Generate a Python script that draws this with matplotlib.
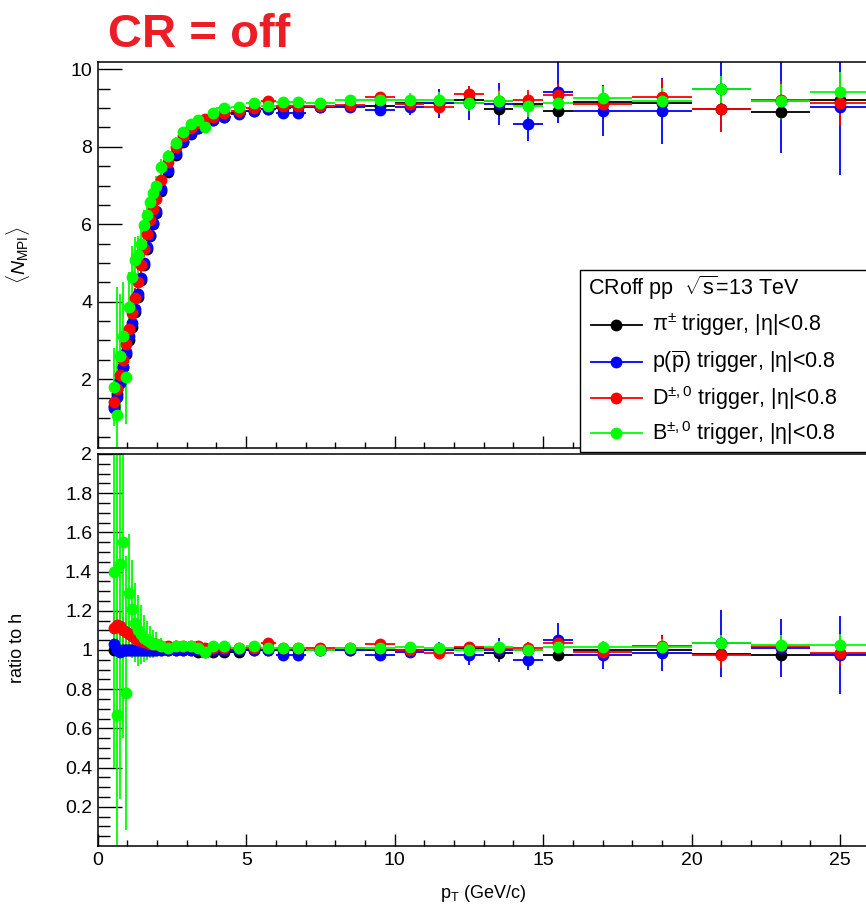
import numpy as np
import matplotlib
matplotlib.use("Agg")
import matplotlib.pyplot as plt
from matplotlib.patches import Rectangle
from matplotlib.lines import Line2D

plt.rcParams['font.family'] = ['Liberation Sans', 'DejaVu Sans']
plt.rcParams['mathtext.fontset'] = 'custom'
plt.rcParams['mathtext.rm'] = 'Liberation Sans'
plt.rcParams['mathtext.it'] = 'Liberation Sans:italic'
plt.rcParams['mathtext.bf'] = 'Liberation Sans:bold'

# bin centres and half widths (GeV/c)
pt = [0.55, 0.65, 0.75, 0.85, 0.95, 1.05, 1.15, 1.25, 1.35, 1.45, 1.55, 1.65, 1.75, 1.85, 1.95,
      2.125, 2.375, 2.625, 2.875, 3.125, 3.375, 3.625, 3.875,
      4.25, 4.75, 5.25, 5.75, 6.25, 6.75,
      7.5, 8.5, 9.5, 10.5, 11.5, 12.5, 13.5, 14.5, 15.5,
      17, 19, 21, 23, 25]
dpt = [0.05]*15 + [0.125]*8 + [0.25]*6 + [0.5]*9 + [1.0]*5

# <N_MPI> per trigger
nmpi_pi = [1.30, 1.62, 1.95, 2.30, 2.65, 3.00, 3.35, 3.72, 4.12, 4.55, 4.95, 5.35, 5.70, 6.00, 6.30,
           6.85, 7.35, 7.80, 8.12, 8.33, 8.48, 8.60, 8.68,
           8.78, 8.86, 8.93, 8.97, 9.00, 9.02,
           9.04, 9.05, 9.06, 9.14, 9.14, 9.20, 8.97, 9.10, 8.92,
           9.16, 9.12, 8.97, 8.90, 9.20]
nmpi_p = [1.25, 1.55, 1.90, 2.30, 2.70, 3.10, 3.45, 3.80, 4.20, 4.60, 5.00, 5.40, 5.72, 6.02, 6.33,
          6.90, 7.40, 7.85, 8.15, 8.35, 8.48, 8.60, 8.68,
          8.78, 8.85, 8.93, 8.97, 8.87, 8.87,
          9.04, 9.03, 8.95, 9.03, 9.12, 9.12, 9.10, 8.60, 9.42,
          8.93, 8.93, 9.48, 9.17, 9.03]
nmpi_D = [1.42, 1.75, 2.10, 2.50, 2.90, 3.30, 3.70, 4.10, 4.50, 4.95, 5.35, 5.75, 6.10, 6.40, 6.65,
          7.15, 7.60, 8.00, 8.28, 8.48, 8.62, 8.72, 8.78,
          8.88, 8.93, 9.00, 9.18, 9.05, 9.05,
          9.06, 9.08, 9.29, 9.10, 9.03, 9.36, 9.17, 9.22, 9.33,
          9.10, 9.29, 8.97, 9.20, 9.14]
nmpi_B = [1.80, 1.07, 2.60, 3.10, 2.05, 3.87, 4.64, 5.07, 5.20, 5.50, 5.97, 6.25, 6.58, 6.80, 7.00,
          7.48, 7.75, 8.10, 8.39, 8.60, 8.70, 8.52, 8.87,
          9.00, 9.03, 9.13, 9.05, 9.16, 9.16,
          9.13, 9.20, 9.20, 9.22, 9.22, 9.14, 9.18, 9.06, 9.14,
          9.26, 9.18, 9.48, 9.18, 9.42]

err_pi = [0.10, 0.10, 0.10, 0.10, 0.09, 0.09, 0.08, 0.08, 0.08, 0.07, 0.07, 0.06, 0.06, 0.06, 0.05,
          0.04, 0.04, 0.04, 0.03, 0.03, 0.03, 0.03, 0.03,
          0.02, 0.02, 0.02, 0.02, 0.03, 0.03,
          0.03, 0.03, 0.04, 0.04, 0.05, 0.05, 0.06, 0.07, 0.08,
          0.07, 0.08, 0.10, 0.12, 0.15]
err_p = [0.15, 0.15, 0.14, 0.14, 0.13, 0.12, 0.12, 0.11, 0.10, 0.10, 0.09, 0.09, 0.08, 0.08, 0.08,
         0.06, 0.06, 0.06, 0.06, 0.06, 0.06, 0.06, 0.06,
         0.05, 0.06, 0.06, 0.08, 0.08, 0.10,
         0.10, 0.12, 0.15, 0.20, 0.37, 0.43, 0.55, 0.44, 0.80,
         0.66, 0.85, 1.09, 1.33, 1.77]
err_D = [0.30, 0.30, 0.30, 0.30, 0.28, 0.28, 0.26, 0.25, 0.24, 0.22, 0.20, 0.18, 0.16, 0.14, 0.12,
         0.10, 0.08, 0.08, 0.07, 0.06, 0.06, 0.06, 0.06,
         0.05, 0.06, 0.06, 0.07, 0.08, 0.08,
         0.08, 0.10, 0.12, 0.15, 0.18, 0.22, 0.32, 0.25, 0.30,
         0.30, 0.45, 0.58, 0.50, 0.60]
err_B = [1.00, 3.30, 1.60, 1.40, 1.20, 0.90, 0.80, 0.60, 0.50, 0.45, 0.40, 0.35, 0.30, 0.28, 0.25,
         0.20, 0.16, 0.14, 0.12, 0.10, 0.10, 0.10, 0.08,
         0.07, 0.07, 0.07, 0.08, 0.08, 0.10,
         0.10, 0.12, 0.14, 0.18, 0.20, 0.22, 0.25, 0.28, 0.30,
         0.30, 0.35, 0.35, 0.45, 0.50]

# ratio to h
ratio_pi = [1.00, 1.00, 1.00, 1.00, 1.00, 1.00, 1.00, 1.00, 1.00, 1.00, 1.00, 1.00, 1.00, 1.00, 1.00,
            1.00, 1.00, 1.00, 1.00, 1.00, 0.99, 0.99, 0.99,
            0.99, 0.99, 1.00, 1.00, 1.00, 1.00,
            1.00, 1.00, 1.00, 1.00, 1.00, 1.01, 0.983, 1.00, 0.975,
            1.00, 1.00, 0.98, 0.975, 0.98]
ratio_p = [1.03, 1.00, 0.99, 1.00, 1.00, 1.00, 1.00, 1.00, 1.00, 1.00, 1.00, 1.00, 1.00, 1.00, 1.00,
           1.00, 1.00, 1.00, 1.00, 1.00, 1.00, 1.00, 1.00,
           1.00, 1.00, 1.00, 1.00, 0.975, 0.975,
           1.00, 1.00, 0.975, 0.99, 1.00, 0.974, 1.00, 0.95, 1.05,
           0.975, 0.985, 1.034, 1.01, 0.975]
ratio_D = [1.11, 1.13, 1.12, 1.10, 1.09, 1.08, 1.07, 1.06, 1.05, 1.05, 1.04, 1.04, 1.03, 1.03, 1.03,
           1.02, 1.02, 1.02, 1.02, 1.02, 1.02, 1.01, 1.01,
           1.01, 1.01, 1.01, 1.035, 1.01, 1.01,
           1.01, 1.01, 1.03, 1.00, 0.983, 1.017, 1.01, 1.009, 1.035,
           0.99, 1.02, 0.975, 1.02, 0.983]
ratio_B = [1.40, 0.67, 1.44, 1.55, 0.78, 1.29, 1.21, 1.14, 1.10, 1.08, 1.06, 1.05, 1.04, 1.03, 1.03,
           1.02, 1.01, 1.02, 1.02, 1.02, 1.01, 0.99, 1.02,
           1.02, 1.01, 1.02, 1.01, 1.01, 1.01,
           1.00, 1.01, 1.01, 1.017, 1.009, 1.00, 1.017, 1.00, 1.017,
           1.015, 1.017, 1.034, 1.026, 1.026]

rerr_pi = [0.01]*23 + [0.005]*6 + [0.005, 0.005, 0.006, 0.006, 0.007, 0.008, 0.009, 0.01, 0.012,
                                   0.012, 0.014, 0.016, 0.02, 0.025]
rerr_p = [0.03, 0.03, 0.03, 0.03, 0.025, 0.025, 0.02, 0.02, 0.02, 0.02, 0.015, 0.015, 0.015, 0.012, 0.012,
          0.01, 0.01, 0.008, 0.008, 0.008, 0.008, 0.008, 0.008,
          0.006, 0.007, 0.008, 0.009, 0.01, 0.012,
          0.012, 0.014, 0.017, 0.03, 0.04, 0.05, 0.06, 0.05, 0.09,
          0.07, 0.09, 0.17, 0.15, 0.20]
rerr_D = [0.08, 0.08, 0.08, 0.07, 0.07, 0.07, 0.06, 0.06, 0.05, 0.05, 0.04, 0.04, 0.03, 0.03, 0.03,
          0.02, 0.015, 0.012, 0.01, 0.01, 0.008, 0.008, 0.008,
          0.007, 0.007, 0.008, 0.009, 0.01, 0.01,
          0.01, 0.012, 0.014, 0.017, 0.02, 0.025, 0.035, 0.03, 0.035,
          0.035, 0.05, 0.065, 0.055, 0.065]
rerr_B = [1.00, 1.40, 1.20, 1.00, 0.70, 0.30, 0.25, 0.20, 0.18, 0.15, 0.12, 0.10, 0.08, 0.07, 0.06,
          0.04, 0.03, 0.03, 0.02, 0.015, 0.012, 0.012, 0.01,
          0.008, 0.008, 0.008, 0.009, 0.01, 0.012,
          0.012, 0.014, 0.016, 0.02, 0.022, 0.025, 0.028, 0.03, 0.033,
          0.033, 0.038, 0.04, 0.05, 0.055]

labels = ['π$^{\\pm}$ trigger, |η|<0.8',
          'p($\\overline{\\rm p}$) trigger, |η|<0.8',
          'D$^{{\\pm},0}$ trigger, |η|<0.8',
          'B$^{{\\pm},0}$ trigger, |η|<0.8']
colors = ['#000000', '#0000ff', '#ff0000', '#00ff00']
tops = [nmpi_pi, nmpi_p, nmpi_D, nmpi_B]
top_errs = [err_pi, err_p, err_D, err_B]
ratios = [ratio_pi, ratio_p, ratio_D, ratio_B]
ratio_errs = [rerr_pi, rerr_p, rerr_D, rerr_B]

W, H = 866, 907
fig = plt.figure(figsize=(W/100, H/100), dpi=100)

x0 = 97.7
xmax = 27.0
xr = x0 + xmax*29.7
ax1 = fig.add_axes([x0/W, 1 - 448/H, (xr - x0)/W, (448 - 62)/H])
ax2 = fig.add_axes([x0/W, 1 - 846/H, (xr - x0)/W, (846 - 454)/H])

for c, y, e in zip(colors, tops, top_errs):
    ax1.errorbar(pt, y, yerr=e, xerr=dpt, fmt='o', color=c, ms=7.5, lw=1.3,
                 capsize=0, mec=c, mfc=c)
for c, y, e in zip(colors, ratios, ratio_errs):
    ax2.errorbar(pt, y, yerr=e, xerr=dpt, fmt='o', color=c, ms=7.5, lw=1.3,
                 capsize=0, mec=c, mfc=c)

ax1.set_xlim(0, xmax)
ax1.set_ylim(0.22, 10.19)
ax2.set_xlim(0, xmax)
ax2.set_ylim(0, 2)

for ax in (ax1, ax2):
    for s in ax.spines.values():
        s.set_linewidth(1.1)
    ax.set_xticks(np.arange(0, 27, 5))
    ax.set_xticks(np.arange(0, 27, 1), minor=True)
    ax.tick_params(axis='x', which='major', direction='in', length=8.6, width=1.0,
                   labelsize=14, pad=4)
    ax.tick_params(axis='x', which='minor', direction='in', length=4.3, width=1.0)
    ax.tick_params(axis='y', which='major', direction='in', length=17, width=1.0,
                   labelsize=14, pad=4)
    ax.tick_params(axis='y', which='minor', direction='in', length=8.6, width=1.0)

ax1.set_yticks([2, 4, 6, 8, 10])
ax1.set_yticks(np.arange(0.5, 10.1, 0.5), minor=True)
ax1.tick_params(axis='x', labelbottom=False)

ax2.set_yticks([0.2, 0.4, 0.6, 0.8, 1, 1.2, 1.4, 1.6, 1.8, 2])
ax2.set_yticklabels(['0.2', '0.4', '0.6', '0.8', '1', '1.2', '1.4', '1.6', '1.8', '2'])
ax2.set_yticks(np.arange(0.05, 2.0, 0.05), minor=True)

fig.text(18/W, 1 - 255/H, r'$\langle N_{\rm MPI}\rangle$', rotation=90,
         ha='center', va='center', fontsize=14)
fig.text(18/W, 1 - 648/H, 'ratio to h', rotation=90, ha='center', va='center', fontsize=13)
fig.text(483/W, 1 - 893/H, r'p$_{\rm T}$ (GeV/c)', ha='center', va='center', fontsize=13)

fig.text(108/W, 1 - 47/H, 'CR = off', ha='left', va='baseline', fontsize=34,
         fontweight='bold', color='#ee1c25')

# legend box
fig.add_artist(Rectangle((580/W, 1 - 452/H), 320/W, (452 - 270)/H, transform=fig.transFigure,
                         facecolor='white', edgecolor='black', lw=1.0, zorder=5))
fig.text(588/W, 1 - 288/H, r'CRoff pp  $\sqrt{\rm s}$=13 TeV', ha='left', va='center',
         fontsize=15.5, zorder=6)
rows = [325, 362, 398, 433]
for c, lab, ry in zip(colors, labels, rows):
    yy = 1 - ry/H
    fig.add_artist(Line2D([591/W, 642/W], [yy, yy], transform=fig.transFigure, color=c,
                          lw=1.3, zorder=6))
    fig.add_artist(Line2D([616/W], [yy], transform=fig.transFigure, marker='o', ms=7.5,
                          color=c, zorder=6))
    fig.text(652/W, yy, lab, ha='left', va='center', fontsize=15.5, zorder=6)

fig.savefig('out.png', dpi=100)
